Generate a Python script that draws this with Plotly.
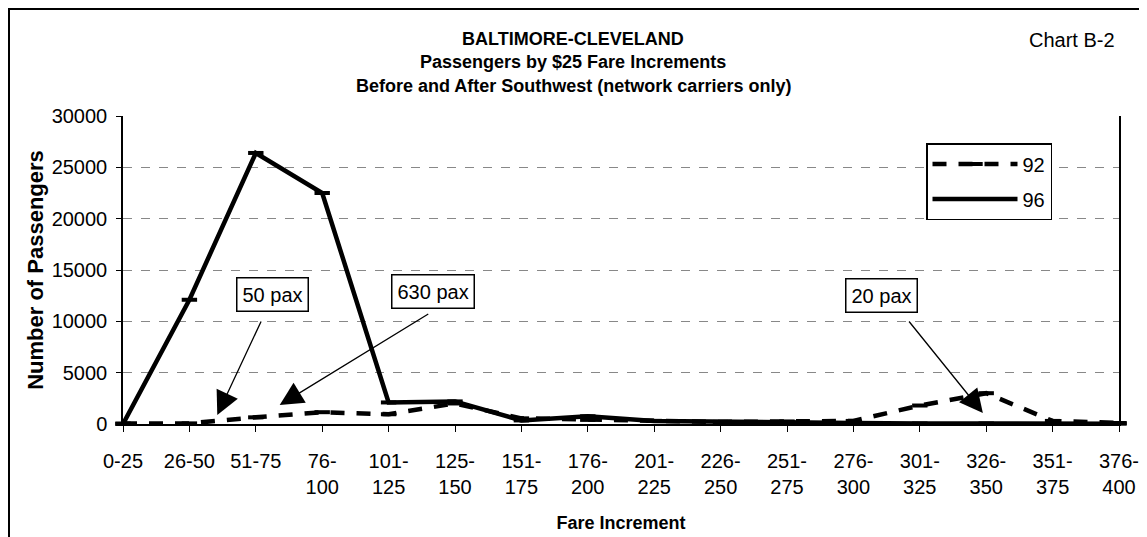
import plotly.graph_objects as go

categories = ["0-25", "26-50", "51-75", "76-<br>100", "101-<br>125", "125-<br>150", "151-<br>175",
              "176-<br>200", "201-<br>225", "226-<br>250", "251-<br>275", "276-<br>300", "301-<br>325",
              "326-<br>350", "351-<br>375", "376-<br>400"]
pax_92 = [50, 60, 650, 1150, 950, 2000, 550, 400, 300, 200, 250, 300, 1800, 3000, 300, 100]
pax_96 = [0, 12100, 26400, 22500, 2100, 2200, 350, 750, 300, 200, 150, 100, 50, 50, 30, 30]

FONT = "Liberation Sans, Arial, sans-serif"
# the page body has an 8px margin; plot area placed at screen x 123..1119, y 116..424
OFF = 8

fig = go.Figure()
fig.add_trace(go.Scatter(
    x=categories, y=pax_92, name="92", mode="lines+markers", legendgroup="a",
    line=dict(color="black", width=4.5, dash="14px,12px"),
    marker=dict(symbol="line-ew-open", size=11, line=dict(color="black", width=4)),
    cliponaxis=False,
))
fig.add_trace(go.Scatter(
    x=categories, y=pax_96, name="96", mode="lines+markers", legendgroup="b",
    line=dict(color="black", width=4.5),
    marker=dict(symbol="line-ew-open", size=11, line=dict(color="black", width=4)),
    cliponaxis=False,
))

# outer border (left and top visible)
fig.add_shape(type="rect", xref="paper", yref="paper",
              x0=(9 - 123) / 996, x1=(1170 - 123) / 996,
              y0=(424 - 560) / 308, y1=(424 - 9) / 308,
              line=dict(color="black", width=2), layer="below")

title_lines = ["BALTIMORE-CLEVELAND", "Passengers by $25 Fare Increments",
               "Before and After Southwest (network carriers only)"]
title_y = [39, 62, 86]
for t, yy in zip(title_lines, title_y):
    fig.add_annotation(text="<b>%s</b>" % t, xref="paper", yref="paper",
                       x=(573 - 123) / 996, y=(424 - yy) / 308,
                       showarrow=False, font=dict(size=18, family=FONT, color="black"),
                       xanchor="center", yanchor="middle")
fig.add_annotation(text="Chart B-2", xref="paper", yref="paper",
                   x=(1117 - 123) / 996, y=(424 - 40) / 308, showarrow=False,
                   font=dict(size=20, family=FONT, color="black"),
                   xanchor="right", yanchor="middle")

# callout boxes
labels = ["50 pax", "630 pax", "20 pax"]
box_x = [2.25, 4.67, 11.42]
box_y = [12660, 12860, 12470]
for t, bx, by in zip(labels, box_x, box_y):
    fig.add_annotation(text=t, x=bx, y=by, showarrow=False,
                       font=dict(size=20, family=FONT, color="black"),
                       bordercolor="black", borderwidth=1.5, borderpad=5,
                       bgcolor="white")

# arrows
tip_x = [1.42, 2.36, 12.95]
tip_y = [880, 1850, 1070]
tail_x = [2.09, 4.62, 11.82]
tail_y = [10130, 10800, 10130]
for tx, ty, sx, sy in zip(tip_x, tip_y, tail_x, tail_y):
    fig.add_annotation(text="", x=tx, y=ty, ax=sx, ay=sy, axref="x", ayref="y",
                       showarrow=True, arrowhead=2, arrowsize=3.6, arrowwidth=1.3,
                       arrowcolor="black", standoff=0)

fig.update_layout(
    width=1147, height=537,
    margin=dict(l=123 - OFF, r=1147 - 1119 + OFF, t=116 - OFF, b=537 - 424 + OFF),
    paper_bgcolor="white", plot_bgcolor="white",
    font=dict(family=FONT, color="black", size=20),
    showlegend=True,
    legend=dict(x=(926 - 123) / 996, y=(424 - 143) / 308, xanchor="left", yanchor="top",
                bordercolor="black", borderwidth=1.5, bgcolor="white",
                font=dict(size=20, family=FONT), itemwidth=85,
                traceorder="grouped", tracegroupgap=6),
)
fig.update_xaxes(
    type="category", range=[0, 15], showgrid=False,
    showline=True, linecolor="black", linewidth=1.5,
    ticks="outside", ticklen=6, tickcolor="black", tickangle=0,
    tickfont=dict(size=20, family=FONT), ticklabelstandoff=12,
    title=dict(text="<b>Fare Increment</b>", font=dict(size=18, family=FONT), standoff=20),
)
fig.update_yaxes(
    range=[0, 30000], dtick=5000, tickformat="d", showgrid=True,
    gridcolor="#888888", griddash="dash", gridwidth=1,
    showline=True, linecolor="black", linewidth=1.5, mirror=True,
    ticks="outside", ticklen=5, tickcolor="black",
    tickfont=dict(size=20, family=FONT), ticklabelstandoff=5, zeroline=False,
    title=dict(text="<b>Number of Passengers</b>", font=dict(size=22, family=FONT), standoff=2),
)

fig.write_html("out.html")
